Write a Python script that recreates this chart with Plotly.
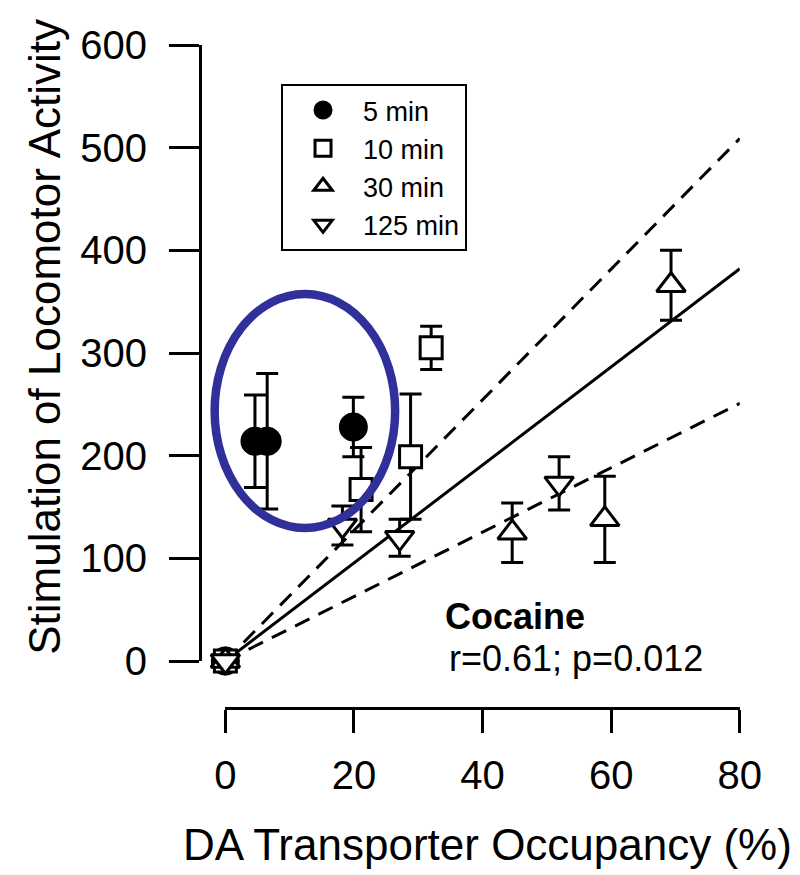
import plotly.graph_objects as go

# ---------------- data ----------------
occ_5 = [0, 4.6, 6.5, 19.9]
act_5 = [0, 214, 214, 228]
err_5 = [0, 45, 66, 29]

occ_10 = [0, 21.1, 28.8, 32.0]
act_10 = [0, 167, 199, 305]
err_10 = [0, 41, 61, 21]

occ_30 = [0, 44.6, 59.0, 69.3]
act_30 = [0, 125, 138, 366]
err_30 = [0, 29, 42, 34]

occ_125 = [0, 18.2, 27.1, 51.9]
act_125 = [0, 132, 120, 173]
err_125 = [0, 19, 18, 26]

fit_x = [0, 80]
fit_mid = [0, 382]
fit_upper = [0, 509]
fit_lower = [0, 251]

x_ticks = [0, 20, 40, 60, 80]
y_ticks = [0, 100, 200, 300, 400, 500, 600]

FONT = "Liberation Sans, Arial, Helvetica, sans-serif"

# ---------------- layout geometry ----------------
W, H = 800, 875
ML, MR, MT, MB = 192, 20, 37, 175
PW = W - ML - MR
PH = H - MT - MB
x_dom = [(218 - ML) / PW, (745 - ML) / PW]
y_dom = [(H - MB - 653) / PH, 1.0]

fig = go.Figure()

# regression line and its confidence bounds
fig.add_trace(go.Scatter(x=fit_x, y=fit_upper, mode="lines", showlegend=False,
                         line=dict(color="black", width=3, dash="16px,10px"), hoverinfo="skip"))
fig.add_trace(go.Scatter(x=fit_x, y=fit_lower, mode="lines", showlegend=False,
                         line=dict(color="black", width=3, dash="16px,10px"), hoverinfo="skip"))
fig.add_trace(go.Scatter(x=fit_x, y=fit_mid, mode="lines", showlegend=False,
                         line=dict(color="black", width=3), hoverinfo="skip"))

def series(name, xs, ys, es, symbol, size, fill):
    return go.Scatter(
        x=xs, y=ys, mode="markers", name=name, cliponaxis=False,
        marker=dict(symbol=symbol, size=size, color=fill,
                    line=dict(color="black", width=3)),
        error_y=dict(type="data", array=es, visible=True, color="black",
                     thickness=3, width=11),
    )

fig.add_trace(series("5 min", occ_5, act_5, err_5, "circle", 26, "black"))
fig.add_trace(series("10 min", occ_10, act_10, err_10, "square", 22, "white"))
fig.add_trace(series("30 min", occ_30, act_30, err_30, "triangle-up", 25, "white"))
fig.add_trace(series("125 min", occ_125, act_125, err_125, "triangle-down", 25, "white"))

# helpers converting data coords to paper coords (for the unclipped ellipse)
def px_(v):
    return x_dom[0] + (v - 0) / 80 * (x_dom[1] - x_dom[0])

def py_(v):
    return y_dom[0] + (v - 0) / 600 * (y_dom[1] - y_dom[0])

fig.add_shape(type="circle", xref="paper", yref="paper",
              x0=px_(-1.67), x1=px_(26.4), y0=py_(129.5), y1=py_(357.5),
              line=dict(color="rgb(48,48,155)", width=8.5), layer="above")

fig.add_annotation(x=33.9, y=43, xref="x", yref="y", text="<b>Cocaine</b>",
                   showarrow=False, xanchor="left", yanchor="middle",
                   font=dict(family=FONT, size=36, color="black"))
fig.add_annotation(x=34.4, y=2, xref="x", yref="y", text="r=0.61; p=0.012",
                   showarrow=False, xanchor="left", yanchor="middle",
                   font=dict(family=FONT, size=36, color="black"))

# axis titles (as annotations so they can sit exactly where the reference has them)
fig.add_annotation(x=(486.5 - ML) / PW, y=(H - MB - 836) / PH, xref="paper", yref="paper",
                   text="DA Transporter Occupancy (%)", showarrow=False,
                   xanchor="center", yanchor="middle",
                   font=dict(family=FONT, size=44, color="black"))
fig.add_annotation(x=(32 - ML) / PW, y=(H - MB - 329) / PH, xref="paper", yref="paper",
                   text="Stimulation of Locomotor Activity", showarrow=False, textangle=-90,
                   xanchor="center", yanchor="middle",
                   font=dict(family=FONT, size=44, color="black"))

fig.update_layout(
    width=W, height=H,
    margin=dict(l=ML, r=MR, t=MT, b=MB),
    paper_bgcolor="white", plot_bgcolor="white",
    font=dict(family=FONT, color="black"),
    showlegend=True,
    legend=dict(x=(275 - ML) / PW, y=(H - MB - 76) / PH, xanchor="left", yanchor="top",
                bordercolor="black", borderwidth=2, bgcolor="white",
                font=dict(family=FONT, size=27, color="black"),
                itemwidth=70, tracegroupgap=0),
    xaxis=dict(domain=x_dom, range=[0, 80], anchor="free", position=0,
               tickmode="array", tickvals=x_ticks, ticktext=[str(v) for v in x_ticks],
               showline=True, linecolor="black", linewidth=3,
               ticks="outside", ticklen=23, tickwidth=3, tickcolor="black",
               tickfont=dict(family=FONT, size=40, color="black"),
               ticklabelstandoff=8,
               showgrid=False, zeroline=False),
    yaxis=dict(domain=y_dom, range=[0, 600], anchor="free", position=0,
               tickmode="array", tickvals=y_ticks, ticktext=[str(v) for v in y_ticks],
               showline=True, linecolor="black", linewidth=3,
               ticks="outside", ticklen=30, tickwidth=3, tickcolor="black",
               tickfont=dict(family=FONT, size=40, color="black"),
               ticklabelstandoff=14,
               showgrid=False, zeroline=False),
)

fig.write_html("out.html")
